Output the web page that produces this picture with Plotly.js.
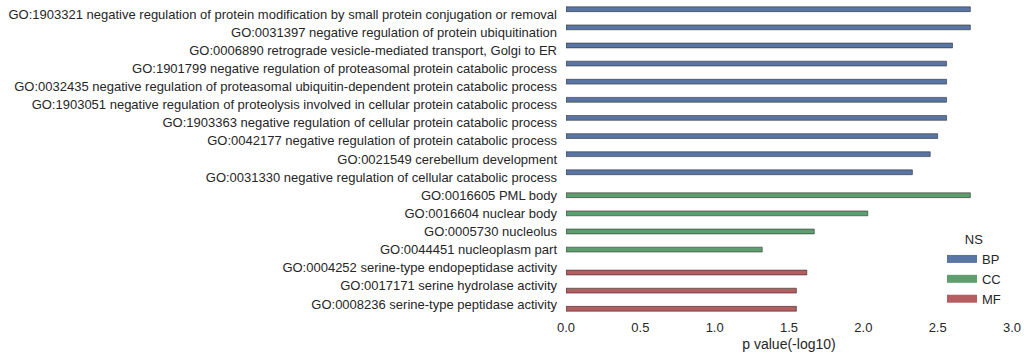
<!DOCTYPE html>
<html>
<head>
<meta charset="utf-8">
<script src="https://cdn.plot.ly/plotly-3.0.1.min.js"></script>
<style>html,body{margin:0;padding:0;background:#fff;}#chart{width:1029px;height:362px;}</style>
</head>
<body>
<div id="chart"></div>
<script>
const categories = [
  "GO:1903321 negative regulation of protein modification by small protein conjugation or removal",
  "GO:0031397 negative regulation of protein ubiquitination",
  "GO:0006890 retrograde vesicle-mediated transport, Golgi to ER",
  "GO:1901799 negative regulation of proteasomal protein catabolic process",
  "GO:0032435 negative regulation of proteasomal ubiquitin-dependent protein catabolic process",
  "GO:1903051 negative regulation of proteolysis involved in cellular protein catabolic process",
  "GO:1903363 negative regulation of cellular protein catabolic process",
  "GO:0042177 negative regulation of protein catabolic process",
  "GO:0021549 cerebellum development",
  "GO:0031330 negative regulation of cellular catabolic process",
  "GO:0016605 PML body",
  "GO:0016604 nuclear body",
  "GO:0005730 nucleolus",
  "GO:0044451 nucleoplasm part",
  "GO:0004252 serine-type endopeptidase activity",
  "GO:0017171 serine hydrolase activity",
  "GO:0008236 serine-type peptidase activity"
];
const values = [2.72, 2.72, 2.60, 2.56, 2.56, 2.56, 2.56, 2.50, 2.45, 2.33,
                2.72, 2.03, 1.67, 1.32,
                1.62, 1.55, 1.55];
const ns = ["BP","BP","BP","BP","BP","BP","BP","BP","BP","BP",
            "CC","CC","CC","CC",
            "MF","MF","MF"];
const groups = ["BP","CC","MF"];
const colors = {BP:"#5975a4", CC:"#5f9e6e", MF:"#b55d60"};
const xTicks = [0, 0.5, 1, 1.5, 2, 2.5, 3];
const xTickText = ["0.0","0.5","1.0","1.5","2.0","2.5","3.0"];

const barTraces = groups.map(g => ({
  type: "bar", orientation: "h", name: g,
  y: categories,
  x: categories.map((c, i) => ns[i] === g ? values[i] : null),
  offsetgroup: g, alignmentgroup: "all",
  marker: {color: colors[g], line: {color: "rgba(40,40,40,0.55)", width: 1}},
  showlegend: false
}));
// legend-only entries (wide swatches like the reference)
const legendTraces = groups.map(g => ({
  type: "scatter", mode: "lines", name: g, x: [null], y: [null],
  line: {color: colors[g], width: 8}, showlegend: true, hoverinfo: "skip"
}));

const font = {family: "Liberation Sans, Arial, sans-serif", size: 13, color: "#262626"};
const layout = {
  width: 1029, height: 362,
  margin: {l: 566, r: 17, t: 5, b: 49},
  paper_bgcolor: "#fff", plot_bgcolor: "#fff",
  font: font,
  barmode: "group", bargap: 0.2, bargroupgap: 0,
  showlegend: true,
  xaxis: {
    range: [0, 3], tickvals: xTicks, ticktext: xTickText,
    showgrid: false, zeroline: false, showline: false, ticks: "",
    ticklabelstandoff: 5, tickfont: font,
    title: {text: "p value(-log10)", font: {family: font.family, size: 14, color: "#262626"}, standoff: 5}
  },
  yaxis: {
    type: "category", categoryorder: "array", categoryarray: categories,
    range: [16.5, -0.5], showgrid: false, zeroline: false, showline: false, ticks: "",
    ticklabelstandoff: 8, tickfont: font
  },
  legend: {
    x: 0.843, y: 0.279, xanchor: "left", yanchor: "top",
    bgcolor: "rgba(0,0,0,0)", font: font,
    title: {text: "NS", side: "top center", font: font},
    tracegroupgap: 0
  }
};
Plotly.newPlot("chart", barTraces.concat(legendTraces), layout, {displayModeBar: false, staticPlot: true});
</script>
</body>
</html>
